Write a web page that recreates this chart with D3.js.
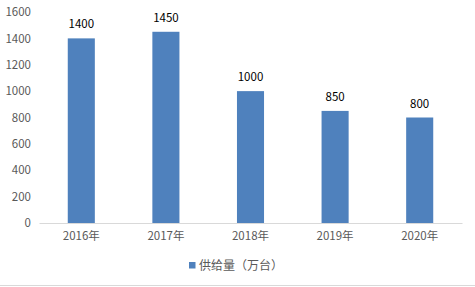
<!DOCTYPE html>
<html><head><meta charset="utf-8">
<script src="https://cdn.jsdelivr.net/npm/d3@7"></script>
<style>body{margin:0;background:#fff}svg{display:block}</style>
</head><body>
<script>
const categories = ["2016年","2017年","2018年","2019年","2020年"];
const values = [1400,1450,1000,850,800];
const yTicks = [0,200,400,600,800,1000,1200,1400,1600];
const seriesName = "供给量（万台）";

const W=475,H=287;
const svg=d3.select("body").append("svg").attr("width",W).attr("height",H);
const font="'Microsoft YaHei','Noto Sans CJK SC',sans-serif";
const x=d3.scaleBand().domain(categories).range([39,462]);
const y=d3.scaleLinear().domain([0,1600]).range([223,12]);
const bw=x.bandwidth()*0.32;

// y axis labels
const ya=svg.append("g").attr("transform","translate(31,0)")
  .call(d3.axisLeft(y).tickValues(yTicks).tickFormat(d3.format("d")).tickSize(0).tickPadding(0));
ya.select(".domain").remove();
ya.selectAll("text").attr("fill","#595959").style("font-family",font).style("font-size","11.5px");

// bars
svg.selectAll("rect.bar").data(values).enter().append("rect").attr("class","bar")
  .attr("x",(d,i)=>x(categories[i])+x.bandwidth()/2-bw/2)
  .attr("width",bw).attr("y",d=>y(d)).attr("height",d=>y(0)-y(d))
  .attr("fill","#4f81bd");

// baseline / x axis
const xa=svg.append("g").attr("transform","translate(0,223)")
  .call(d3.axisBottom(x).tickSize(0).tickPadding(9));
xa.select(".domain").attr("stroke","#d9d9d9");
xa.selectAll("text").attr("fill","#595959").style("font-family",font).style("font-size","11.5px");

// data labels
svg.selectAll("text.lbl").data(values).enter().append("text").attr("class","lbl")
  .attr("x",(d,i)=>x(categories[i])+x.bandwidth()/2).attr("y",d=>y(d)-10)
  .attr("text-anchor","middle").attr("fill","#000")
  .style("font-family",font).style("font-size","11.5px").text(d=>d);

// legend
svg.append("rect").attr("x",189).attr("y",262).attr("width",6.5).attr("height",6.5).attr("fill","#4f81bd");
svg.append("text").attr("x",199).attr("y",270).attr("fill","#595959")
  .style("font-family",font).style("font-size","12px").text(seriesName);

// bottom border
svg.append("line").attr("x1",0).attr("x2",W).attr("y1",285.5).attr("y2",285.5).attr("stroke","#d9d9d9");
</script>
</body></html>
